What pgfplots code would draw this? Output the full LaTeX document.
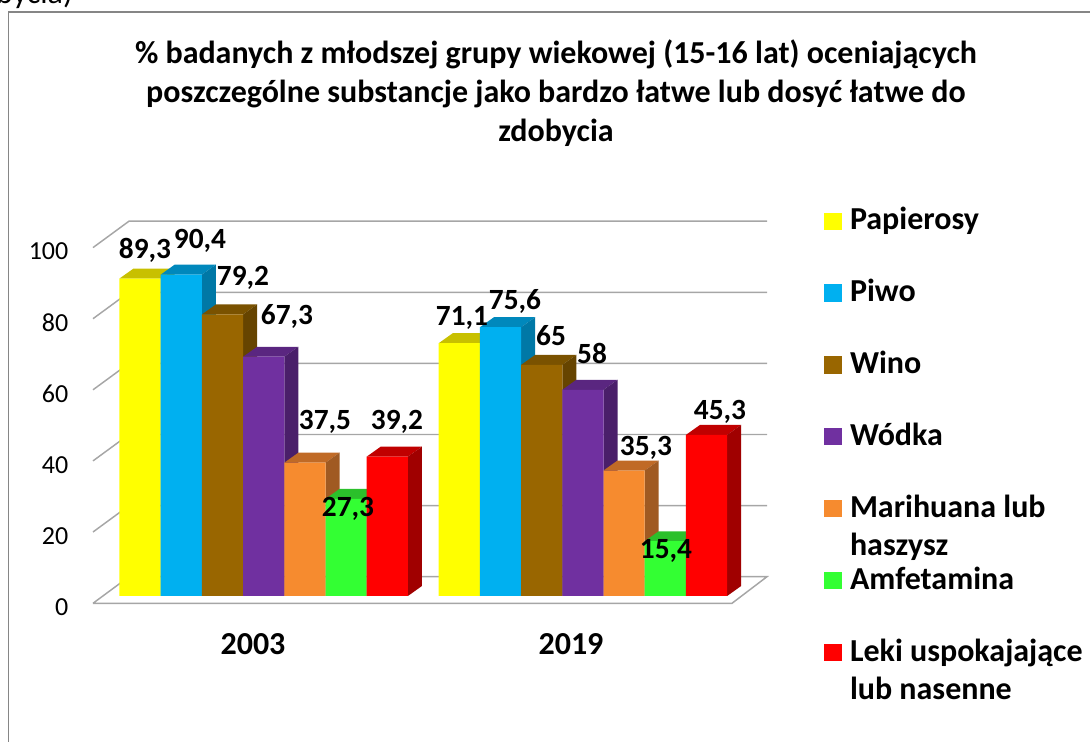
\documentclass[border=0pt]{standalone}
\usepackage{fontspec}
\setmainfont{Carlito}
\usepackage{pgfplots}
\pgfplotsset{compat=1.18}
\definecolor{cYe}{HTML}{FFFF00}\definecolor{cYeT}{HTML}{C8C000}\definecolor{cYeS}{HTML}{A8A000}
\definecolor{cBl}{HTML}{00B0F0}\definecolor{cBlT}{HTML}{0088BC}\definecolor{cBlS}{HTML}{0078A6}
\definecolor{cBr}{HTML}{996600}\definecolor{cBrT}{HTML}{7A5200}\definecolor{cBrS}{HTML}{664400}
\definecolor{cPu}{HTML}{7030A0}\definecolor{cPuT}{HTML}{5A2680}\definecolor{cPuS}{HTML}{4A1F6A}
\definecolor{cOr}{HTML}{F68B2F}\definecolor{cOrT}{HTML}{C06A26}\definecolor{cOrS}{HTML}{A05A22}
\definecolor{cGr}{HTML}{33FF33}\definecolor{cGrT}{HTML}{2BC02B}\definecolor{cGrS}{HTML}{22A022}
\definecolor{cRe}{HTML}{FF0000}\definecolor{cReT}{HTML}{C00000}\definecolor{cReS}{HTML}{A00000}
\definecolor{wall}{HTML}{A6A6A6}
\definecolor{frame}{HTML}{868686}
\pgfplotsset{swatch/.style={legend image code/.code={\fill[#1] (0pt,0pt) rectangle (13.5pt,13pt);}}}
\newcommand{\entry}[1]{\rule[-20pt]{0pt}{54pt}#1}
\newcommand{\entryB}[2]{\rule[-20pt]{0pt}{54pt}\makebox[0pt][l]{\raisebox{-28.5pt}{#2}}#1}
\begin{document}
\begin{tikzpicture}
\path[use as bounding box] (-69.75pt,-104.025pt) rectangle (747.75pt,452.475pt);
\begin{axis}[
  at={(0pt,0pt)}, anchor=south west,
  scale only axis, width=505.5pt, height=286.5pt,
  xmin=93, xmax=767, ymin=-2.053, ymax=105.4,
  clip=false,
  axis line style={draw=none}, major tick length=0pt, tick style={draw=none},
  xtick={253,571}, xticklabels={2003,2019},
  xticklabel style={font=\fontsize{24}{28}\selectfont\bfseries, yshift=-19pt},
  ytick={0,20,40,60,80,100},
  yticklabel style={font=\fontsize{19.5}{23}\selectfont, xshift=-15pt, yshift=-8.25pt},
  /pgf/number format/assume math mode=true,
  legend style={at={(1.0846,1.0962)}, anchor=north west, draw=none, fill=none,
    font=\fontsize{24}{28}\selectfont\bfseries, inner sep=0pt, outer sep=0pt,
    row sep=18.4pt, column sep=6pt, nodes={inner sep=0pt, outer sep=0pt}, cells={anchor=base west}},
]
% walls and floor
\addplot[draw=wall, line width=1.1pt, forget plot] coordinates {(93,18) (129,25.43) (767,25.43)};
\addplot[draw=wall, line width=1.1pt, forget plot] coordinates {(93,38) (129,45.43) (767,45.43)};
\addplot[draw=wall, line width=1.1pt, forget plot] coordinates {(93,58) (129,65.43) (767,65.43)};
\addplot[draw=wall, line width=1.1pt, forget plot] coordinates {(93,78) (129,85.43) (767,85.43)};
\addplot[draw=wall, line width=1.1pt, forget plot] coordinates {(93,98) (129,105.43) (767,105.43)};
\addplot[draw=wall, line width=1.1pt, fill=white, forget plot] coordinates {(93,-2.05) (732,-2.05) (767,5.43) (129,5.43) (93,-2.05)};
% Papierosy
\addplot[fill=cYeT, draw=none, forget plot] coordinates {(119.5,89.3) (133.5,92.11) (174.7,92.11) (160.7,89.3)};
\addplot[fill=cYeS, draw=none, forget plot] coordinates {(160.7,0) (174.7,2.81) (174.7,92.11) (160.7,89.3)};
\addplot[fill=cYeT, draw=none, forget plot] coordinates {(438.7,71.1) (452.7,73.91) (493.9,73.91) (479.9,71.1)};
\addplot[fill=cYeS, draw=none, forget plot] coordinates {(479.9,0) (493.9,2.81) (493.9,73.91) (479.9,71.1)};
\addplot[ybar, bar width=30.9pt, bar shift=0pt, fill=cYe, draw=none, swatch=cYe] coordinates {(140.1,89.3) (459.3,71.1)};
\addlegendentry{\entry{Papierosy}}
% Piwo
\addplot[fill=cBlT, draw=none, forget plot] coordinates {(160.7,90.4) (174.7,93.21) (215.9,93.21) (201.9,90.4)};
\addplot[fill=cBlS, draw=none, forget plot] coordinates {(201.9,0) (215.9,2.81) (215.9,93.21) (201.9,90.4)};
\addplot[fill=cBlT, draw=none, forget plot] coordinates {(479.9,75.6) (493.9,78.41) (535.1,78.41) (521.1,75.6)};
\addplot[fill=cBlS, draw=none, forget plot] coordinates {(521.1,0) (535.1,2.81) (535.1,78.41) (521.1,75.6)};
\addplot[ybar, bar width=30.9pt, bar shift=0pt, fill=cBl, draw=none, swatch=cBl] coordinates {(181.3,90.4) (500.5,75.6)};
\addlegendentry{\entry{Piwo}}
% Wino
\addplot[fill=cBrT, draw=none, forget plot] coordinates {(201.9,79.2) (215.9,82.01) (257.1,82.01) (243.1,79.2)};
\addplot[fill=cBrS, draw=none, forget plot] coordinates {(243.1,0) (257.1,2.81) (257.1,82.01) (243.1,79.2)};
\addplot[fill=cBrT, draw=none, forget plot] coordinates {(521.1,65) (535.1,67.81) (576.3,67.81) (562.3,65)};
\addplot[fill=cBrS, draw=none, forget plot] coordinates {(562.3,0) (576.3,2.81) (576.3,67.81) (562.3,65)};
\addplot[ybar, bar width=30.9pt, bar shift=0pt, fill=cBr, draw=none, swatch=cBr] coordinates {(222.5,79.2) (541.7,65)};
\addlegendentry{\entry{Wino}}
% Wodka
\addplot[fill=cPuT, draw=none, forget plot] coordinates {(243.1,67.3) (257.1,70.11) (298.3,70.11) (284.3,67.3)};
\addplot[fill=cPuS, draw=none, forget plot] coordinates {(284.3,0) (298.3,2.81) (298.3,70.11) (284.3,67.3)};
\addplot[fill=cPuT, draw=none, forget plot] coordinates {(562.3,58) (576.3,60.81) (617.5,60.81) (603.5,58)};
\addplot[fill=cPuS, draw=none, forget plot] coordinates {(603.5,0) (617.5,2.81) (617.5,60.81) (603.5,58)};
\addplot[ybar, bar width=30.9pt, bar shift=0pt, fill=cPu, draw=none, swatch=cPu] coordinates {(263.7,67.3) (582.9,58)};
\addlegendentry{\entry{Wódka}}
% Marihuana
\addplot[fill=cOrT, draw=none, forget plot] coordinates {(284.3,37.5) (298.3,40.31) (339.5,40.31) (325.5,37.5)};
\addplot[fill=cOrS, draw=none, forget plot] coordinates {(325.5,0) (339.5,2.81) (339.5,40.31) (325.5,37.5)};
\addplot[fill=cOrT, draw=none, forget plot] coordinates {(603.5,35.3) (617.5,38.11) (658.7,38.11) (644.7,35.3)};
\addplot[fill=cOrS, draw=none, forget plot] coordinates {(644.7,0) (658.7,2.81) (658.7,38.11) (644.7,35.3)};
\addplot[ybar, bar width=30.9pt, bar shift=0pt, fill=cOr, draw=none, swatch=cOr] coordinates {(304.9,37.5) (624.1,35.3)};
\addlegendentry{\entryB{Marihuana lub}{haszysz}}
% Amfetamina
\addplot[fill=cGrT, draw=none, forget plot] coordinates {(325.5,27.3) (339.5,30.11) (380.7,30.11) (366.7,27.3)};
\addplot[fill=cGrS, draw=none, forget plot] coordinates {(366.7,0) (380.7,2.81) (380.7,30.11) (366.7,27.3)};
\addplot[fill=cGrT, draw=none, forget plot] coordinates {(644.7,15.4) (658.7,18.21) (699.9,18.21) (685.9,15.4)};
\addplot[fill=cGrS, draw=none, forget plot] coordinates {(685.9,0) (699.9,2.81) (699.9,18.21) (685.9,15.4)};
\addplot[ybar, bar width=30.9pt, bar shift=0pt, fill=cGr, draw=none, swatch=cGr] coordinates {(346.1,27.3) (665.3,15.4)};
\addlegendentry{\entry{Amfetamina}}
% Leki
\addplot[fill=cReT, draw=none, forget plot] coordinates {(366.7,39.2) (380.7,42.01) (421.9,42.01) (407.9,39.2)};
\addplot[fill=cReS, draw=none, forget plot] coordinates {(407.9,0) (421.9,2.81) (421.9,42.01) (407.9,39.2)};
\addplot[fill=cReT, draw=none, forget plot] coordinates {(685.9,45.3) (699.9,48.11) (741.1,48.11) (727.1,45.3)};
\addplot[fill=cReS, draw=none, forget plot] coordinates {(727.1,0) (741.1,2.81) (741.1,48.11) (727.1,45.3)};
\addplot[ybar, bar width=30.9pt, bar shift=0pt, fill=cRe, draw=none, swatch=cRe] coordinates {(387.3,39.2) (706.5,45.3)};
\addlegendentry{\entryB{Leki uspokajające}{lub nasenne}}
\end{axis}
\begin{scope}[x=0.75pt, y=-0.75pt, shift={(-69.75pt,452.475pt)}]
\draw[frame, line width=1pt] (8.5,742) -- (8.5,12) -- (1090,12);
\node[anchor=base east, inner sep=0pt, font=\fontsize{24}{28}\selectfont] at (73,4) {bycia)};
\node[align=center, font=\fontsize{24}{29.2}\selectfont\bfseries] at (556,93)
  {\% badanych z młodszej grupy wiekowej (15-16 lat) oceniających\\
   poszczególne substancje jako bardzo łatwe lub dosyć łatwe do\\
   zdobycia};
\foreach \x/\y/\t in {145/250/{89,3},200/240/{90,4},243/277/{79,2},287/316/{67,3},325/421/{37,5},397/421/{39,2},348/508/{27,3},
  462/317/{71,1},515/301/{75,6},551/337/{65},592/355/{58},646/447/{35,3},666/550/{15,4},720/411/{45,3}}
  {\node[anchor=base, inner sep=0pt, font=\fontsize{22}{26}\selectfont\bfseries] at (\x,\y+9) {\t};}
\end{scope}
\end{tikzpicture}
\end{document}
